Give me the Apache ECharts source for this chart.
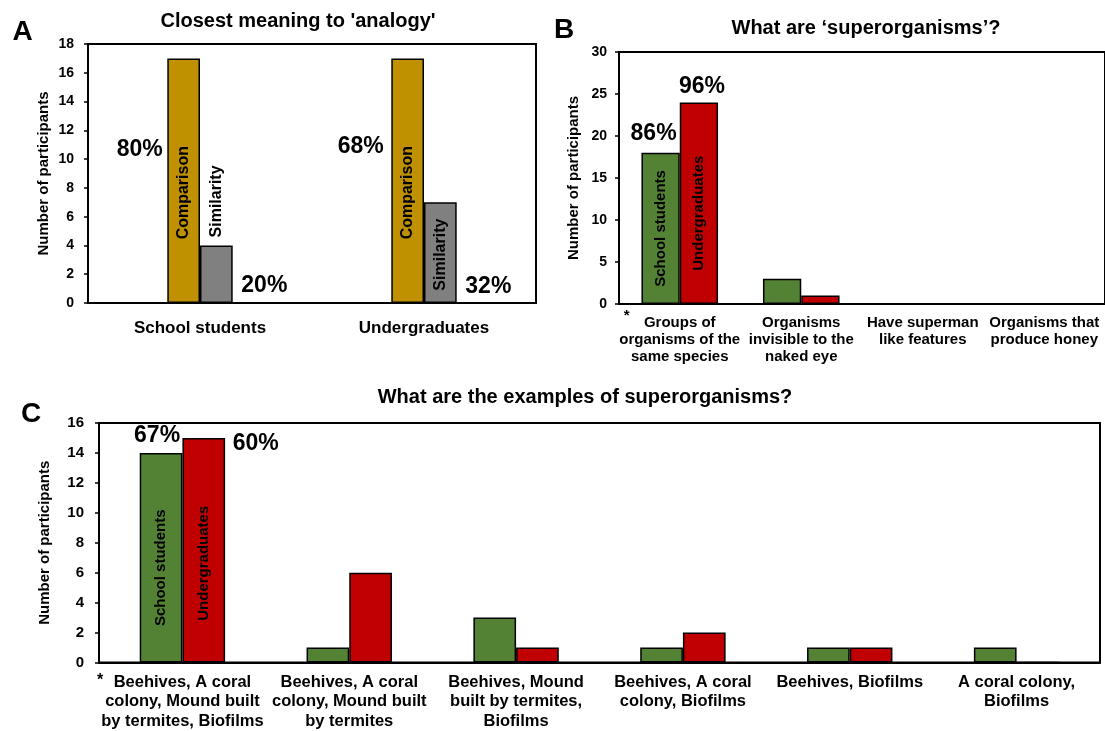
<!DOCTYPE html>
<html>
<head>
<meta charset="utf-8">
<script src="https://cdn.jsdelivr.net/npm/echarts@6/dist/echarts.min.js"></script>
<style>
html,body{margin:0;padding:0;background:#fff;}
#chart{width:1105px;height:731px;}
</style>
</head>
<body>
<div id="chart"></div>
<script>
// ---------- Data ----------
const titleA = "Closest meaning to 'analogy'";
const titleB = "What are \u2018superorganisms\u2019?";
const titleC = "What are the examples of superorganisms?";
const yNameAll = 'Number of participants';

const catsA = ['School students', 'Undergraduates'];
const comparisonA = [17, 17];
const similarityA = [4, 7];
const pctComparisonA = ['80%', '68%'];
const pctSimilarityA = ['20%', '32%'];

const catsB = ['Groups of\norganisms of the\nsame species', 'Organisms\ninvisible to the\nnaked eye', 'Have superman\nlike features', 'Organisms that\nproduce honey'];
const schoolB = [18, 3, 0, 0];
const undergradB = [24, 1, 0, 0];
const pctSchoolB = '86%';
const pctUndergradB = '96%';

const catsC = ['Beehives, A coral\ncolony, Mound built\nby termites, Biofilms', 'Beehives, A coral\ncolony, Mound built\nby termites', 'Beehives, Mound\nbuilt by termites,\nBiofilms', 'Beehives, A coral\ncolony, Biofilms', 'Beehives, Biofilms', 'A coral colony,\nBiofilms'];
const schoolC = [14, 1, 3, 1, 1, 1];
const undergradC = [15, 6, 1, 2, 1, 0];
const pctSchoolC = '67%';
const pctUndergradC = '60%';

const yRangeA = [0, 18, 2];
const yRangeB = [0, 30, 5];
const yRangeC = [0, 16, 2];

// ---------- Styling ----------
const FONT = "'Liberation Sans', Arial, sans-serif";
const GOLD = '#BF9000', GRAY = '#808080', GREEN = '#548235', RED = '#C00000';

function barStyle(c) { return { color: c, borderColor: '#000', borderWidth: 1.5 }; }

function vLabel(text, size, extra) {
  return Object.assign({
    show: true, formatter: text, rotate: 90, position: 'inside',
    fontSize: size, fontWeight: 'bold', fontFamily: FONT, color: '#000',
    textBorderWidth: 0
  }, extra || {});
}

function marks(items) {
  return {
    symbol: 'circle', symbolSize: 1, silent: true, animation: false,
    itemStyle: { color: 'rgba(0,0,0,0)' },
    label: { show: true, position: 'inside', fontWeight: 'bold', fontFamily: FONT, color: '#000' },
    data: items.map(it => ({
      coord: [it.cat, it.val],
      label: { formatter: it.text, offset: it.off, fontSize: it.size }
    }))
  };
}

function yAxis(idx, r, labelSize, margin, nameGap) {
  return {
    type: 'value', gridIndex: idx, min: r[0], max: r[1], interval: r[2],
    name: yNameAll, nameLocation: 'middle', nameGap: nameGap,
    nameTextStyle: { fontSize: 15, fontWeight: 'bold', fontFamily: FONT, color: '#000' },
    axisLine: { show: true, lineStyle: { color: '#000', width: 2 } },
    axisTick: { show: true, length: 4, lineStyle: { color: '#000', width: 1.5 } },
    splitLine: { show: false },
    axisLabel: { fontSize: labelSize, fontWeight: 'bold', fontFamily: FONT, color: '#000', margin: margin }
  };
}

function xAxis(idx, cats, size, lh, margin) {
  return {
    type: 'category', gridIndex: idx, data: cats,
    axisLine: { show: true, lineStyle: { color: '#000', width: 2 } },
    axisTick: { show: false },
    axisLabel: { interval: 0, fontSize: size, lineHeight: lh, fontWeight: 'bold', fontFamily: FONT, color: '#000', margin: margin, hideOverlap: false }
  };
}

const gridBase = { show: true, borderColor: '#000', borderWidth: 2, containLabel: false };

const option = {
  animation: false,
  backgroundColor: '#fff',
  grid: [
    Object.assign({ left: 88, top: 44, width: 448, height: 259 }, gridBase),
    Object.assign({ left: 619, top: 52, width: 490, height: 252 }, gridBase),
    Object.assign({ left: 99, top: 423, width: 1001, height: 240 }, gridBase)
  ],
  xAxis: [
    xAxis(0, catsA, 17, 20, 15),
    xAxis(1, catsB, 15, 17, 10),
    xAxis(2, catsC, 16.5, 19.5, 10)
  ],
  yAxis: [
    yAxis(0, yRangeA, 14, 14, 37),
    yAxis(1, yRangeB, 14, 12, 38),
    yAxis(2, yRangeC, 15, 15, 47)
  ],
  series: [
    {
      type: 'bar', name: 'Comparison', xAxisIndex: 0, yAxisIndex: 0,
      barWidth: 32.7, barGap: '0%',
      itemStyle: barStyle(GOLD),
      label: vLabel('Comparison', 16, { offset: [-12, 0] }),
      data: comparisonA.slice(),
      markPoint: marks([
        { cat: catsA[0], val: comparisonA[0], text: pctComparisonA[0], off: [-44, 91], size: 23 },
        { cat: catsA[1], val: comparisonA[1], text: pctComparisonA[1], off: [-47, 88], size: 23 }
      ])
    },
    {
      type: 'bar', name: 'Similarity', xAxisIndex: 0, yAxisIndex: 0,
      barWidth: 32.7, barGap: '0%',
      itemStyle: barStyle(GRAY),
      label: vLabel('Similarity', 16),
      data: similarityA.map((v, i) => i === 0
        ? { value: v, label: { position: 'top', distance: 8, align: 'left', verticalAlign: 'middle' } }
        : { value: v, label: { position: 'inside', offset: [-2, 0] } }),
      markPoint: marks([
        { cat: catsA[0], val: similarityA[0], text: pctSimilarityA[0], off: [48, 40], size: 23 },
        { cat: catsA[1], val: similarityA[1], text: pctSimilarityA[1], off: [48, 84], size: 23 }
      ])
    },
    {
      type: 'bar', name: 'School students', xAxisIndex: 1, yAxisIndex: 1,
      barWidth: 38.3, barGap: '0%',
      itemStyle: barStyle(GREEN),
      label: { show: false },
      data: schoolB.map((v, i) => i === 0 ? { value: v, label: vLabel('School students', 15) } : v),
      markPoint: marks([
        { cat: catsB[0], val: schoolB[0], text: pctSchoolB, off: [-7, -19], size: 23 },
        { cat: catsB[0], val: 0, text: '*', off: [-34, 12], size: 15 }
      ])
    },
    {
      type: 'bar', name: 'Undergraduates', xAxisIndex: 1, yAxisIndex: 1,
      barWidth: 38.3, barGap: '0%',
      itemStyle: barStyle(RED),
      label: { show: false },
      data: undergradB.map((v, i) => i === 0 ? { value: v, label: vLabel('Undergraduates', 15, { offset: [-10, 0] }) } : v),
      markPoint: marks([
        { cat: catsB[0], val: undergradB[0], text: pctUndergradB, off: [3, -16], size: 23 }
      ])
    },
    {
      type: 'bar', name: 'School students', xAxisIndex: 2, yAxisIndex: 2,
      barWidth: 42.7, barGap: '0%',
      itemStyle: barStyle(GREEN),
      label: { show: false },
      data: schoolC.map((v, i) => i === 0 ? { value: v, label: vLabel('School students', 15, { offset: [-10, 0] }) } : v),
      markPoint: marks([
        { cat: catsC[0], val: schoolC[0], text: pctSchoolC, off: [-4, -17], size: 23 },
        { cat: catsC[0], val: 0, text: '*', off: [-61, 18], size: 16 }
      ])
    },
    {
      type: 'bar', name: 'Undergraduates', xAxisIndex: 2, yAxisIndex: 2,
      barWidth: 42.7, barGap: '0%',
      itemStyle: barStyle(RED),
      label: { show: false },
      data: undergradC.map((v, i) => i === 0 ? { value: v, label: vLabel('Undergraduates', 15, { offset: [-13, 0] }) } : v),
      markPoint: marks([
        { cat: catsC[0], val: undergradC[0], text: pctUndergradC, off: [52, 6], size: 23 }
      ])
    }
  ],
  graphic: [
    { type: 'text', x: 298, y: 21, style: { text: titleA, font: "bold 20px 'Liberation Sans', Arial, sans-serif", fill: '#000', align: 'center', verticalAlign: 'middle' } },
    { type: 'text', x: 866, y: 28, style: { text: titleB, font: "bold 20px 'Liberation Sans', Arial, sans-serif", fill: '#000', align: 'center', verticalAlign: 'middle' } },
    { type: 'text', x: 585, y: 397, style: { text: titleC, font: "bold 20px 'Liberation Sans', Arial, sans-serif", fill: '#000', align: 'center', verticalAlign: 'middle' } },
    { type: 'text', x: 22.5, y: 32, style: { text: 'A', font: "bold 28px 'Liberation Sans', Arial, sans-serif", fill: '#000', align: 'center', verticalAlign: 'middle' } },
    { type: 'text', x: 564, y: 30, style: { text: 'B', font: "bold 28px 'Liberation Sans', Arial, sans-serif", fill: '#000', align: 'center', verticalAlign: 'middle' } },
    { type: 'text', x: 31, y: 414, style: { text: 'C', font: "bold 28px 'Liberation Sans', Arial, sans-serif", fill: '#000', align: 'center', verticalAlign: 'middle' } }
  ]
};

const chart = echarts.init(document.getElementById('chart'), null, { renderer: 'canvas' });
chart.setOption(option);
</script>
</body>
</html>
